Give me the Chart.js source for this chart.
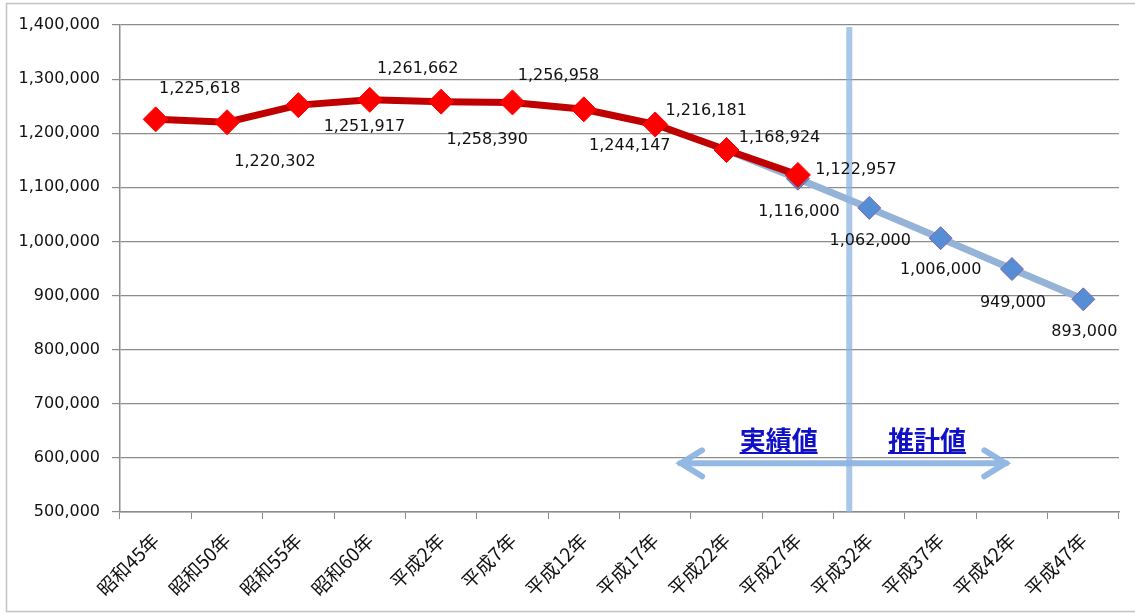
<!DOCTYPE html>
<html>
<head>
<meta charset="utf-8">
<script src="https://cdn.jsdelivr.net/npm/chart.js@4"></script>
<style>
  body { margin: 0; background: #fff; }
  #wrap { width: 1135px; height: 614px; position: relative; }
</style>
</head>
<body>
<div id="wrap"><canvas id="myChart"></canvas></div>
<script>
// categories (x axis)
const years = ['昭和45年', '昭和50年', '昭和55年', '昭和60年', '平成2年', '平成7年', '平成12年',
  '平成17年', '平成22年', '平成27年', '平成32年', '平成37年', '平成42年', '平成47年'];

// 実績値 (actual)
const actualValues = [1225618, 1220302, 1251917, 1261662, 1258390, 1256958, 1244147,
  1216181, 1168924, 1122957, null, null, null, null];

// 推計値 (projection) - starts under the actual line at 平成22年
const projectedValues = [null, null, null, null, null, null, null, null,
  1168924, 1116000, 1062000, 1006000, 949000, 893000];

// y axis
const yMin = 500000;
const yMax = 1400000;
const yStep = 100000;

// which points get a value label
const actualLabelIdx = [0, 1, 2, 3, 4, 5, 6, 7, 8, 9];
const projectedLabelIdx = [9, 10, 11, 12, 13];

// label offsets from the point, px
const actualLabelOffset = [[44, -31], [48, 40], [66, 22], [48, -31], [46, 38], [46, -27],
  [46, 37], [51, -14], [53, -12], [58, -5]];
const projectedLabelOffset = [[1, 33], [1, 33], [0, 32], [1, 34], [1, 33]];

// annotation placement (in category index / value units)
const dividerAt = 9.72;
const arrowFrom = 7.32, arrowTo = 11.95, arrowY = 590000;
const textY = 633000;
const noteLeft = { text: '実績値', at: 8.73 };
const noteRight = { text: '推計値', at: 10.81 };

const fmt = v => v.toLocaleString('en-US');

const frame = {
  id: 'frame',
  beforeDraw(chart) {
    const ctx = chart.ctx;
    ctx.save();
    ctx.strokeStyle = '#c3c3c3';
    ctx.lineWidth = 1.5;
    ctx.beginPath();
    ctx.moveTo(1135, 3.5);
    ctx.lineTo(6.5, 3.5);
    ctx.lineTo(6.5, 611.5);
    ctx.lineTo(1135, 611.5);
    ctx.stroke();
    ctx.restore();
  }
};

const extras = {
  id: 'extras',
  afterDatasetsDraw(chart) {
    const ctx = chart.ctx;
    const xs = chart.scales.x, ys = chart.scales.y;
    const area = chart.chartArea;
    ctx.save();

    // divider line between actual / projection
    const dx = xs.getPixelForValue(dividerAt);
    ctx.strokeStyle = 'rgba(141,180,226,0.75)';
    ctx.lineWidth = 6;
    ctx.beginPath();
    ctx.moveTo(dx, area.top + 2);
    ctx.lineTo(dx, area.bottom);
    ctx.stroke();

    // double arrow
    const ax1 = xs.getPixelForValue(arrowFrom);
    const ax2 = xs.getPixelForValue(arrowTo);
    const ay = ys.getPixelForValue(arrowY);
    ctx.strokeStyle = 'rgba(141,180,226,0.95)';
    ctx.lineWidth = 6;
    ctx.lineCap = 'round';
    ctx.lineJoin = 'miter';
    ctx.beginPath();
    ctx.moveTo(ax1 + 2, ay);
    ctx.lineTo(ax2 - 2, ay);
    ctx.moveTo(ax1 + 24, ay - 13);
    ctx.lineTo(ax1 + 3, ay);
    ctx.lineTo(ax1 + 24, ay + 13);
    ctx.moveTo(ax2 - 24, ay - 13);
    ctx.lineTo(ax2 - 3, ay);
    ctx.lineTo(ax2 - 24, ay + 13);
    ctx.stroke();

    // notes
    const ty = ys.getPixelForValue(textY);
    ctx.font = 'bold 26px "Noto Sans CJK JP"';
    ctx.fillStyle = '#1010c8';
    ctx.strokeStyle = '#1010c8';
    ctx.lineWidth = 2;
    ctx.lineCap = 'butt';
    ctx.textAlign = 'center';
    ctx.textBaseline = 'middle';
    [noteLeft, noteRight].forEach(n => {
      const cx = xs.getPixelForValue(n.at);
      ctx.fillText(n.text, cx, ty);
      const w = ctx.measureText(n.text).width;
      ctx.beginPath();
      ctx.moveTo(cx - w / 2, ty + 13);
      ctx.lineTo(cx + w / 2, ty + 13);
      ctx.stroke();
    });
    ctx.restore();
  },
  afterDraw(chart) {
    // value labels
    const ctx = chart.ctx;
    ctx.save();
    ctx.font = '16px "DejaVu Sans"';
    ctx.fillStyle = '#111';
    ctx.textAlign = 'center';
    ctx.textBaseline = 'middle';
    const draw = (dsIndex, values, idx, offs) => {
      const meta = chart.getDatasetMeta(dsIndex);
      idx.forEach((i, k) => {
        const p = meta.data[i];
        ctx.fillText(fmt(values[i]), p.x + offs[k][0], p.y + offs[k][1]);
      });
    };
    draw(0, actualValues, actualLabelIdx, actualLabelOffset);
    draw(1, projectedValues, projectedLabelIdx, projectedLabelOffset);
    ctx.restore();
  }
};

const ctx = document.getElementById('myChart');
new Chart(ctx, {
  type: 'line',
  data: {
    labels: years,
    datasets: [{
      label: '実績値',
      data: actualValues,
      borderColor: '#c00000',
      borderWidth: 7,
      pointStyle: 'rectRot',
      pointRadius: 12.5,
      pointBackgroundColor: '#ff0000',
      pointBorderColor: '#ff0000',
      pointBorderWidth: 1,
      tension: 0
    }, {
      label: '推計値',
      data: projectedValues,
      borderColor: '#95b3d7',
      borderWidth: 7,
      pointStyle: 'rectRot',
      pointRadius: projectedValues.map((v, i) => i === 8 ? 0 : 11.5),
      pointBackgroundColor: '#558ed5',
      pointBorderColor: '#8064a2',
      pointBorderWidth: 1,
      tension: 0
    }]
  },
  options: {
    responsive: true,
    maintainAspectRatio: false,
    animation: false,
    layout: { padding: { top: 25, right: 16, left: 0, bottom: 0 } },
    plugins: {
      legend: { display: false },
      tooltip: { enabled: false }
    },
    scales: {
      x: {
        offset: true,
        grid: {
          offset: true,
          drawOnChartArea: false,
          drawTicks: true,
          tickLength: 7,
          color: '#8c8c8c'
        },
        border: { color: '#8c8c8c', width: 1.5 },
        ticks: {
          autoSkip: false,
          maxRotation: 45,
          minRotation: 45,
          color: '#111',
          font: { family: '"Noto Sans CJK JP"', size: 19 },
          padding: 10
        },
        afterFit(scale) { scale.height = 102; }
      },
      y: {
        min: yMin,
        max: yMax,
        grid: {
          color: '#8c8c8c',
          lineWidth: 1.2,
          tickLength: 8
        },
        border: { color: '#8c8c8c', width: 1.5 },
        ticks: {
          stepSize: yStep,
          color: '#111',
          font: { family: '"DejaVu Sans"', size: 16 },
          padding: 12,
          callback: v => fmt(v)
        },
        afterFit(scale) { scale.width = 120; }
      }
    }
  },
  plugins: [frame, extras]
});
</script>
</body>
</html>
